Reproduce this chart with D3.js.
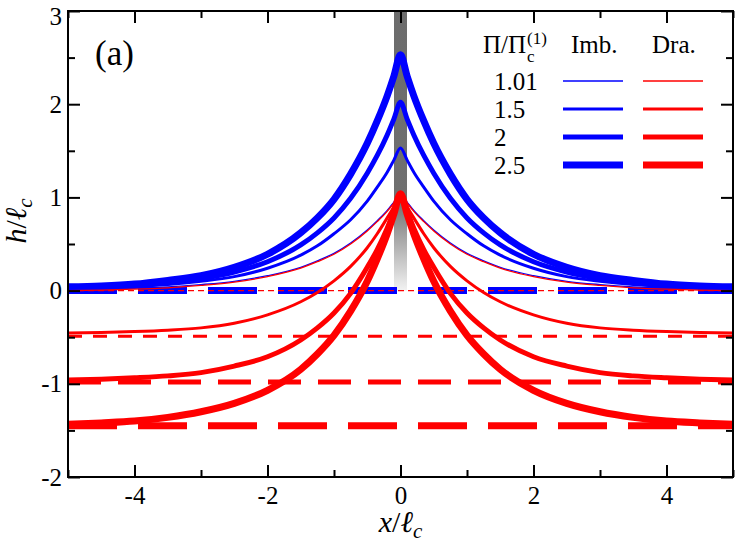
<!DOCTYPE html>
<html>
<head>
<meta charset="utf-8">
<script src="https://cdn.jsdelivr.net/npm/d3@7/dist/d3.min.js"></script>
<style>
  body { margin: 0; background: #fff; }
  svg text { font-family: "Liberation Serif", "Times New Roman", serif; fill: #000; }
</style>
</head>
<body>
<svg id="chart" width="747" height="543"></svg>
<script>
// half profiles (x >= 0), mirrored for x < 0
var xHalf = [0, 0.1, 0.2, 0.35, 0.5, 0.75, 1, 1.25, 1.5, 2, 2.5, 3, 3.5, 4, 4.5, 5];

var imb101 = [1.04, 0.95, 0.86, 0.75, 0.65, 0.51, 0.40, 0.32, 0.25, 0.16, 0.10, 0.065, 0.04, 0.025, 0.015, 0.01];
var imb15  = [1.53, 1.40, 1.27, 1.11, 0.96, 0.76, 0.61, 0.48, 0.38, 0.24, 0.15, 0.10, 0.065, 0.045, 0.03, 0.02];
var imb2   = [2.02, 1.84, 1.67, 1.45, 1.26, 0.99, 0.78, 0.62, 0.49, 0.31, 0.20, 0.13, 0.085, 0.055, 0.04, 0.03];
var imb25  = [2.53, 2.30, 2.09, 1.82, 1.58, 1.25, 0.98, 0.78, 0.62, 0.39, 0.25, 0.16, 0.11, 0.07, 0.05, 0.04];

var dra101 = [1.04, 0.94, 0.85, 0.74, 0.64, 0.50, 0.39, 0.31, 0.24, 0.15, 0.09, 0.055, 0.03, 0.015, 0.005, 0.0];
var dra15  = [1.04, 0.90, 0.78, 0.61, 0.46, 0.26, 0.105, -0.02, -0.12, -0.26, -0.35, -0.40, -0.425, -0.44, -0.45, -0.455];
var dra2   = [1.04, 0.85, 0.67, 0.44, 0.25, -0.03, -0.24, -0.40, -0.53, -0.71, -0.81, -0.88, -0.915, -0.935, -0.95, -0.96];
var dra25  = [1.04, 0.82, 0.61, 0.34, 0.10, -0.22, -0.48, -0.68, -0.845, -1.07, -1.21, -1.30, -1.36, -1.40, -1.42, -1.435];

var piLabels = ["1.01", "1.5", "2", "2.5"];
var imbLevels = [0, 0, 0, 0];
var draLevels = [0, -0.49, -0.98, -1.45];

var xTicks = [-4, -2, 0, 2, 4];
var xMinor = [-5, -3, -1, 1, 3, 5];
var yTicks = [-2, -1, 0, 1, 2, 3];
var yMinor = [-1.5, -0.5, 0.5, 1.5, 2.5];

var imbSeries = [imb101, imb15, imb2, imb25];
var draSeries = [dra101, dra15, dra2, dra25];
var widths = [1.3, 3, 5, 7];
var dashes = ["6,4", "14,11", "33,17", "49,21"];
var BLUE = "#0000ff", RED = "#ff0000";
var SERIF = "'Liberation Serif', 'Times New Roman', serif";

var svg = d3.select("#chart");
var L = 68, R = 733, T = 11, B = 477;

var x = d3.scaleLinear().domain([-5, 5]).range([L, R]);
var y = d3.scaleLinear().domain([-2, 3]).range([B, T]);

svg.append("rect").attr("width", 747).attr("height", 543).attr("fill", "#fff");

var defs = svg.append("defs");
defs.append("clipPath").attr("id", "plotclip")
  .append("rect").attr("x", L).attr("y", T).attr("width", R - L).attr("height", B - T);

var grad = defs.append("linearGradient").attr("id", "bargrad")
  .attr("gradientUnits", "userSpaceOnUse")
  .attr("x1", 0).attr("x2", 0).attr("y1", y(3)).attr("y2", y(0));
grad.append("stop").attr("offset", 0).attr("stop-color", "#6c6c6c");
grad.append("stop").attr("offset", 0.68).attr("stop-color", "#707070");
grad.append("stop").attr("offset", 1).attr("stop-color", "#f2f2f2");

function profile(vals) {
  var pts = [];
  for (var i = xHalf.length - 1; i > 0; i--) pts.push([-xHalf[i], vals[i]]);
  for (var j = 0; j < xHalf.length; j++) pts.push([xHalf[j], vals[j]]);
  return pts;
}

var line = d3.line()
  .x(function(d) { return x(d[0]); })
  .y(function(d) { return y(d[1]); })
  .curve(d3.curveMonotoneX);

var plot = svg.append("g").attr("clip-path", "url(#plotclip)");

// gray bar at x = 0
plot.append("rect")
  .attr("x", x(0) - 6.5).attr("width", 13)
  .attr("y", y(3)).attr("height", y(0) - y(3))
  .attr("fill", "url(#bargrad)");

// imbibition curves
imbSeries.forEach(function(s, i) {
  plot.append("path").datum(profile(s))
    .attr("d", line).attr("fill", "none")
    .attr("stroke", BLUE).attr("stroke-width", widths[i]);
});

// imbibition asymptote (all at 0), thickest one is what shows
plot.append("line")
  .attr("x1", x(-5)).attr("x2", x(5))
  .attr("y1", y(imbLevels[3])).attr("y2", y(imbLevels[3]))
  .attr("stroke", BLUE).attr("stroke-width", widths[3])
  .attr("stroke-dasharray", dashes[3]);

// drainage curves
draSeries.forEach(function(s, i) {
  plot.append("path").datum(profile(s))
    .attr("d", line).attr("fill", "none")
    .attr("stroke", RED).attr("stroke-width", widths[i]);
});

// drainage asymptotes
draLevels.forEach(function(v, i) {
  plot.append("line")
    .attr("x1", x(-5)).attr("x2", x(5))
    .attr("y1", y(v)).attr("y2", y(v))
    .attr("stroke", RED).attr("stroke-width", widths[i])
    .attr("stroke-dasharray", dashes[i]);
});

// axes (ticks pointing inwards, on all four sides)
function styleAxis(g) {
  g.attr("font-family", SERIF);
  g.select(".domain").remove();
  g.selectAll(".tick line").attr("stroke", "#000").attr("stroke-width", 2);
  g.selectAll(".tick text").attr("font-size", 25).attr("fill", "#000")
    .style("font-family", SERIF);
}
var fmt = function(d) { return String(d); };

svg.append("g").attr("transform", "translate(0," + B + ")")
  .call(d3.axisBottom(x).tickValues(xTicks).tickSize(-12).tickPadding(9).tickFormat(fmt))
  .call(styleAxis);
svg.append("g").attr("transform", "translate(0," + B + ")")
  .call(d3.axisBottom(x).tickValues(xMinor).tickSize(-7).tickFormat(""))
  .call(styleAxis);
svg.append("g").attr("transform", "translate(0," + T + ")")
  .call(d3.axisTop(x).tickValues(xTicks).tickSize(-12).tickFormat(""))
  .call(styleAxis);
svg.append("g").attr("transform", "translate(0," + T + ")")
  .call(d3.axisTop(x).tickValues(xMinor).tickSize(-7).tickFormat(""))
  .call(styleAxis);

var yAxisG = svg.append("g").attr("transform", "translate(" + L + ",0)")
  .call(d3.axisLeft(y).tickValues(yTicks).tickSize(-12).tickPadding(6).tickFormat(fmt))
  .call(styleAxis);
// top label sits a little lower so it stays on the page
yAxisG.selectAll(".tick text").filter(function(d) { return d === 3; }).attr("dy", "0.52em");
svg.append("g").attr("transform", "translate(" + L + ",0)")
  .call(d3.axisLeft(y).tickValues(yMinor).tickSize(-7).tickFormat(""))
  .call(styleAxis);
svg.append("g").attr("transform", "translate(" + R + ",0)")
  .call(d3.axisRight(y).tickValues(yTicks).tickSize(-12).tickFormat(""))
  .call(styleAxis);
svg.append("g").attr("transform", "translate(" + R + ",0)")
  .call(d3.axisRight(y).tickValues(yMinor).tickSize(-7).tickFormat(""))
  .call(styleAxis);

// frame
svg.append("rect")
  .attr("x", L).attr("y", T).attr("width", R - L).attr("height", B - T)
  .attr("fill", "none").attr("stroke", "#000").attr("stroke-width", 2);

// axis titles
var xt = svg.append("text").attr("x", (L + R) / 2).attr("y", 532)
  .attr("text-anchor", "middle").attr("font-size", 30);
xt.append("tspan").attr("font-style", "italic").text("x");
xt.append("tspan").text("/");
xt.append("tspan").attr("font-style", "italic").text("\u2113");
xt.append("tspan").attr("font-style", "italic").attr("font-size", 21).attr("dy", 6).text("c");

var yt = svg.append("text").attr("transform", "translate(26,221) rotate(-90)")
  .attr("text-anchor", "middle").attr("font-size", 30);
yt.append("tspan").attr("font-style", "italic").text("h");
yt.append("tspan").text("/");
yt.append("tspan").attr("font-style", "italic").text("\u2113");
yt.append("tspan").attr("font-style", "italic").attr("font-size", 21).attr("dy", 6).text("c");

// panel label
svg.append("text").attr("x", 95).attr("y", 65).attr("font-size", 35).text("(a)");

// legend
var lg = svg.append("g");
var head = lg.append("text").attr("x", 483).attr("y", 53).attr("font-size", 25).text("\u03a0/\u03a0");
var hw = head.node().getComputedTextLength();
lg.append("text").attr("x", 483 + hw + 1).attr("y", 62).attr("font-size", 17).text("c");
lg.append("text").attr("x", 483 + hw + 1).attr("y", 44).attr("font-size", 17).text("(1)");
lg.append("text").attr("x", 571).attr("y", 53).attr("font-size", 25).text("Imb.");
lg.append("text").attr("x", 652).attr("y", 53).attr("font-size", 25).text("Dra.");

var rowY = [81, 109, 137, 165];
piLabels.forEach(function(p, i) {
  lg.append("text").attr("x", 494).attr("y", rowY[i] + 9).attr("font-size", 25).text(p);
  lg.append("line").attr("x1", 563).attr("x2", 623).attr("y1", rowY[i]).attr("y2", rowY[i])
    .attr("stroke", BLUE).attr("stroke-width", widths[i]);
  lg.append("line").attr("x1", 643).attr("x2", 703).attr("y1", rowY[i]).attr("y2", rowY[i])
    .attr("stroke", RED).attr("stroke-width", widths[i]);
});
</script>
</body>
</html>
